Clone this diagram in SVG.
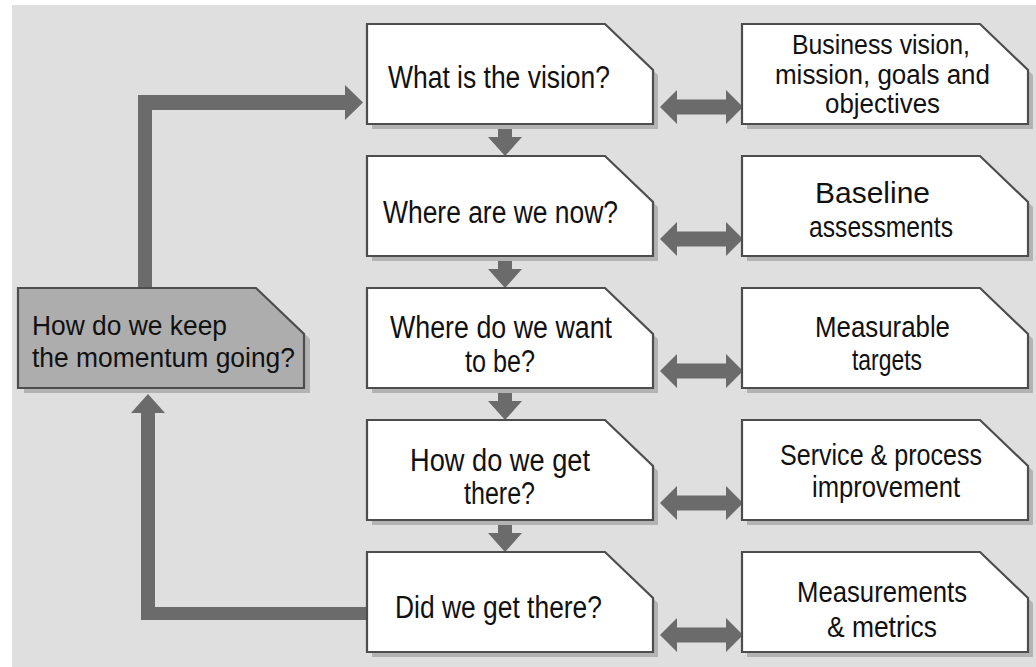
<svg xmlns="http://www.w3.org/2000/svg" xmlns:xlink="http://www.w3.org/1999/xlink" width="1036" height="667" viewBox="0 0 1036 667">
<style>
.bg{fill:#dfdfdf}
.conn{fill:#6b6b6b}
.shadow{fill:#b3b3b3}
.box{fill:#ffffff;stroke:#4d4d4d;stroke-width:2.2}
.boxdark{fill:#adadad;stroke:#4d4d4d;stroke-width:2.2}
.t{font-family:"Liberation Sans Narrow","Liberation Sans",Arial,sans-serif;font-size:31px;fill:#111}
.tr{font-family:"Liberation Sans Narrow","Liberation Sans",Arial,sans-serif;font-size:30px;fill:#111}
.tr2{font-family:"Liberation Sans Narrow","Liberation Sans",Arial,sans-serif;font-size:27px;fill:#111}
.tl{font-family:"Liberation Sans",Arial,sans-serif;font-size:27px;fill:#111}
</style>
<defs>
<path id="shape" d="M0,0 H238 L286,46 V100 H0 Z"/>
</defs>
<rect class="bg" x="12" y="5" width="1024" height="662"/>

<g id="connectors">
<!-- loop up/over to first box -->
<path class="conn" d="M138,290 V95 H345 V85 L363,102.5 L345,120 V110 H152 V290 Z"/>
<!-- loop from last box back to left box -->
<path class="conn" d="M369,620 H141 V413 H131 L148,394 L165,413 H155 V607 H369 Z"/>
<!-- down arrows -->
<path class="conn" d="M498,122 H512 V137 H522 L505,156 L488,137 H498 Z"/>
<path class="conn" d="M498,254 H512 V269 H522 L505,288 L488,269 H498 Z"/>
<path class="conn" d="M498,386 H512 V401 H522 L505,420 L488,401 H498 Z"/>
<path class="conn" d="M498,518 H512 V533 H522 L505,552 L488,533 H498 Z"/>
<!-- double arrows -->
<path class="conn" d="M660,107 L677,90 V99.5 H726 V90 L743,107 L726,124 V114.5 H677 V124 Z"/>
<path class="conn" d="M660,239 L677,222 V231.5 H726 V222 L743,239 L726,256 V246.5 H677 V256 Z"/>
<path class="conn" d="M660,371 L677,354 V363.5 H726 V354 L743,371 L726,388 V378.5 H677 V388 Z"/>
<path class="conn" d="M660,503 L677,486 V495.5 H726 V486 L743,503 L726,520 V510.5 H677 V520 Z"/>
<path class="conn" d="M660,635 L677,618 V627.5 H726 V618 L743,635 L726,652 V642.5 H677 V652 Z"/>
</g>

<g id="node-keep">
<use xlink:href="#shape" class="shadow" x="24" y="293"/>
<use xlink:href="#shape" class="boxdark" x="18" y="288"/>
<text class="tl" x="32" y="335" textLength="195" lengthAdjust="spacingAndGlyphs">How do we keep</text>
<text class="tl" x="32" y="367" textLength="263" lengthAdjust="spacingAndGlyphs">the momentum going?</text>
</g>

<g id="node-vision">
<use xlink:href="#shape" class="shadow" x="372" y="29"/>
<use xlink:href="#shape" class="box" x="367" y="24"/>
<text class="t" x="388" y="88" textLength="222" lengthAdjust="spacingAndGlyphs">What is the vision?</text>
</g>

<g id="node-now">
<use xlink:href="#shape" class="shadow" x="372" y="161"/>
<use xlink:href="#shape" class="box" x="367" y="156"/>
<text class="t" x="383" y="223" textLength="235" lengthAdjust="spacingAndGlyphs">Where are we now?</text>
</g>

<g id="node-want">
<use xlink:href="#shape" class="shadow" x="372" y="293"/>
<use xlink:href="#shape" class="box" x="367" y="288"/>
<text class="t" x="390" y="338" textLength="222" lengthAdjust="spacingAndGlyphs">Where do we want</text>
<text class="t" x="465" y="372" textLength="70" lengthAdjust="spacingAndGlyphs">to be?</text>
</g>

<g id="node-get">
<use xlink:href="#shape" class="shadow" x="372" y="425"/>
<use xlink:href="#shape" class="box" x="367" y="420"/>
<text class="t" x="410" y="471" textLength="180" lengthAdjust="spacingAndGlyphs">How do we get</text>
<text class="t" x="464" y="504" textLength="71" lengthAdjust="spacingAndGlyphs">there?</text>
</g>

<g id="node-did">
<use xlink:href="#shape" class="shadow" x="372" y="557"/>
<use xlink:href="#shape" class="box" x="367" y="552"/>
<text class="t" x="395" y="618" textLength="207" lengthAdjust="spacingAndGlyphs">Did we get there?</text>
</g>

<g id="node-business">
<use xlink:href="#shape" class="shadow" x="747" y="29"/>
<use xlink:href="#shape" class="box" x="742" y="24"/>
<text class="tr2" x="792" y="54" textLength="178" lengthAdjust="spacingAndGlyphs">Business vision,</text>
<text class="tr2" x="775" y="84" textLength="215" lengthAdjust="spacingAndGlyphs">mission, goals and</text>
<text class="tr2" x="825" y="113" textLength="115" lengthAdjust="spacingAndGlyphs">objectives</text>
</g>

<g id="node-baseline">
<use xlink:href="#shape" class="shadow" x="747" y="161"/>
<use xlink:href="#shape" class="box" x="742" y="156"/>
<text class="tr" x="815" y="203" textLength="115" lengthAdjust="spacingAndGlyphs">Baseline</text>
<text class="tr" x="809" y="237" textLength="144" lengthAdjust="spacingAndGlyphs">assessments</text>
</g>

<g id="node-targets">
<use xlink:href="#shape" class="shadow" x="747" y="293"/>
<use xlink:href="#shape" class="box" x="742" y="288"/>
<text class="tr" x="815" y="337" textLength="135" lengthAdjust="spacingAndGlyphs">Measurable</text>
<text class="tr" x="852" y="370" textLength="70" lengthAdjust="spacingAndGlyphs">targets</text>
</g>

<g id="node-service">
<use xlink:href="#shape" class="shadow" x="747" y="425"/>
<use xlink:href="#shape" class="box" x="742" y="420"/>
<text class="tr" x="780" y="465" textLength="202" lengthAdjust="spacingAndGlyphs">Service &amp; process</text>
<text class="tr" x="812" y="497" textLength="148" lengthAdjust="spacingAndGlyphs">improvement</text>
</g>

<g id="node-measurements">
<use xlink:href="#shape" class="shadow" x="747" y="557"/>
<use xlink:href="#shape" class="box" x="742" y="552"/>
<text class="tr" x="797" y="602" textLength="170" lengthAdjust="spacingAndGlyphs">Measurements</text>
<text class="tr" x="827" y="637" textLength="110" lengthAdjust="spacingAndGlyphs">&amp; metrics</text>
</g>
</svg>
